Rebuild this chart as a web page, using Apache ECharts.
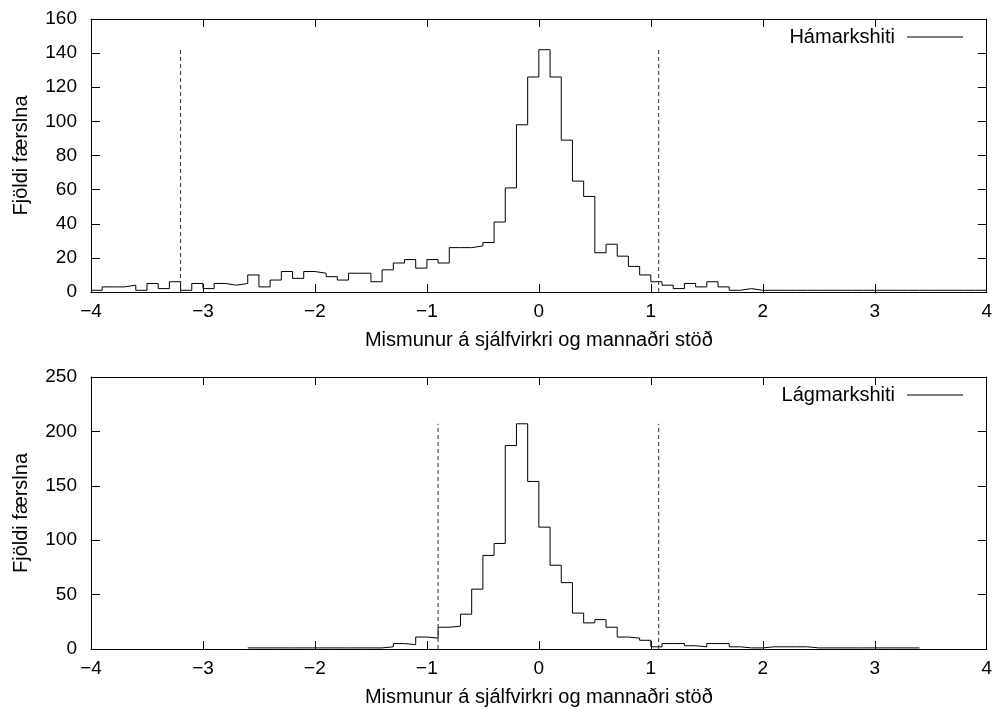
<!DOCTYPE html>
<html>
<head>
<meta charset="utf-8">
<script src="https://cdn.jsdelivr.net/npm/echarts@6/dist/echarts.min.js"></script>
<style>
html,body{margin:0;padding:0;background:#fff;}
#chart{width:995px;height:710px;}
</style>
</head>
<body>
<div id="chart"></div>
<script>
// ---- Data ----
const xTitle = 'Mismunur á sjálfvirkri og mannaðri stöð';
const yTitle = 'Fjöldi færslna';
const binWidth = 0.1;

// Top panel: Hámarkshiti (bins from -4.0 to 4.0)
const maxName = 'Hámarkshiti';
const maxStart = -4.0;
const maxCounts = [
  1, 3, 3, 4, 1, 5, 2, 6, 1, 5,
  2, 5, 4, 5, 10, 3, 7, 12, 8, 12,
  11, 9, 7, 11, 11, 6, 13, 17, 19, 14,
  19, 17, 26, 26, 27, 29, 41, 61, 98, 126,
  142, 126, 89, 65, 56, 23, 28, 21, 15, 10,
  6, 4, 2, 5, 3, 6, 3, 1, 2, 1,
  1, 1, 1, 1, 1, 1, 1, 1, 1, 1,
  1, 1, 1, 1, 1, 1, 1, 1, 1, 1
];
const maxLimits = [-3.2, 1.07];
const maxLimitHeight = 143;

// Bottom panel: Lágmarkshiti (bins from -2.6 to 3.4)
const minName = 'Lágmarkshiti';
const minStart = -2.6;
const minCounts = [
  1, 1, 1, 1, 1, 1, 1, 1, 1, 1,
  1, 1, 2, 5, 4, 11, 10, 20, 21, 32,
  55, 86, 97, 187, 207, 154, 112, 77, 61, 33,
  24, 27, 20, 11, 10, 8, 2, 5, 5, 3,
  2, 5, 5, 2, 1, 1, 2, 2, 2, 2,
  1, 1, 1, 1, 1, 1, 1, 1, 1, 1
];
const minLimits = [-0.9, 1.07];
const minLimitHeight = 207;

const xMin = -4, xMax = 4, xStep = 1;
const topYMax = 160, topYStep = 20;
const botYMax = 250, botYStep = 50;

// ---- Build ----
function stepData(start, counts) {
  const d = counts.map((v, i) => [+(start + i * binWidth).toFixed(4), v]);
  d.push([+(start + counts.length * binWidth).toFixed(4), counts[counts.length - 1]]);
  return d;
}
function limitSeries(limits, h, xi, yi) {
  return limits.map(x => ({
    type: 'line', xAxisIndex: xi, yAxisIndex: yi, symbol: 'none', silent: true,
    data: [[x, 0], [x, h]],
    lineStyle: { color: '#333', width: 1, type: [4, 3] }
  }));
}

const FONT = 'Liberation Sans, Arial, Helvetica, sans-serif';
const FS_TICK = 19;
const FS = 20;
const minus = v => String(v).replace('-', '\u2212');

function xAxes(gridIndex) {
  return [{
    gridIndex, type: 'value', min: xMin, max: xMax, interval: xStep, position: 'bottom',
    axisLine: { show: true, onZero: false, lineStyle: { color: '#000', width: 1 } },
    axisTick: { show: true, inside: true, length: 8, lineStyle: { color: '#000' } },
    axisLabel: { color: '#000', fontFamily: FONT, fontSize: FS_TICK, margin: 10, formatter: minus },
    splitLine: { show: false },
    name: xTitle, nameLocation: 'middle', nameGap: 38,
    nameTextStyle: { color: '#000', fontFamily: FONT, fontSize: FS }
  }, {
    gridIndex, type: 'value', min: xMin, max: xMax, interval: xStep, position: 'top',
    axisLine: { show: true, onZero: false, lineStyle: { color: '#000', width: 1 } },
    axisTick: { show: true, inside: true, length: 8, lineStyle: { color: '#000' } },
    axisLabel: { show: false }, splitLine: { show: false }
  }];
}
function yAxes(gridIndex, max, step) {
  return [{
    gridIndex, type: 'value', min: 0, max, interval: step, position: 'left',
    axisLine: { show: true, onZero: false, lineStyle: { color: '#000', width: 1 } },
    axisTick: { show: true, inside: true, length: 9, lineStyle: { color: '#000' } },
    axisLabel: { color: '#000', fontFamily: FONT, fontSize: FS_TICK, margin: 14 },
    splitLine: { show: false },
    name: yTitle, nameLocation: 'middle', nameGap: 60, nameRotate: 90,
    nameTextStyle: { color: '#000', fontFamily: FONT, fontSize: FS }
  }, {
    gridIndex, type: 'value', min: 0, max, interval: step, position: 'right',
    axisLine: { show: true, onZero: false, lineStyle: { color: '#000', width: 1 } },
    axisTick: { show: true, inside: true, length: 9, lineStyle: { color: '#000' } },
    axisLabel: { show: false }, splitLine: { show: false }
  }];
}
function legendFor(name, top) {
  return {
    data: [{ name, icon: 'rect', itemStyle: { color: '#000' } }],
    right: 32, top, padding: 0, align: 'right',
    itemWidth: 56, itemHeight: 1, selectedMode: false,
    textStyle: { color: '#000', fontFamily: FONT, fontSize: FS, lineHeight: 20, padding: [0, 7, 0, 0] }
  };
}

const chart = echarts.init(document.getElementById('chart'), null, { renderer: 'canvas' });
chart.setOption({
  animation: false,
  backgroundColor: '#fff',
  grid: [
    { left: 91, width: 896, top: 19, height: 273 },
    { left: 91, width: 896, top: 377, height: 272 }
  ],
  legend: [legendFor(maxName, 27), legendFor(minName, 385)],
  xAxis: [...xAxes(0), ...xAxes(1)],
  yAxis: [...yAxes(0, topYMax, topYStep), ...yAxes(1, botYMax, botYStep)],
  series: [
    {
      name: maxName, type: 'line', step: 'end', xAxisIndex: 0, yAxisIndex: 0,
      symbol: 'none', data: stepData(maxStart, maxCounts),
      lineStyle: { color: '#000', width: 1 }, itemStyle: { color: '#000' }
    },
    ...limitSeries(maxLimits, maxLimitHeight, 0, 0),
    {
      name: minName, type: 'line', step: 'end', xAxisIndex: 2, yAxisIndex: 2,
      symbol: 'none', data: stepData(minStart, minCounts),
      lineStyle: { color: '#000', width: 1 }, itemStyle: { color: '#000' }
    },
    ...limitSeries(minLimits, minLimitHeight, 2, 2)
  ]
});
</script>
</body>
</html>
